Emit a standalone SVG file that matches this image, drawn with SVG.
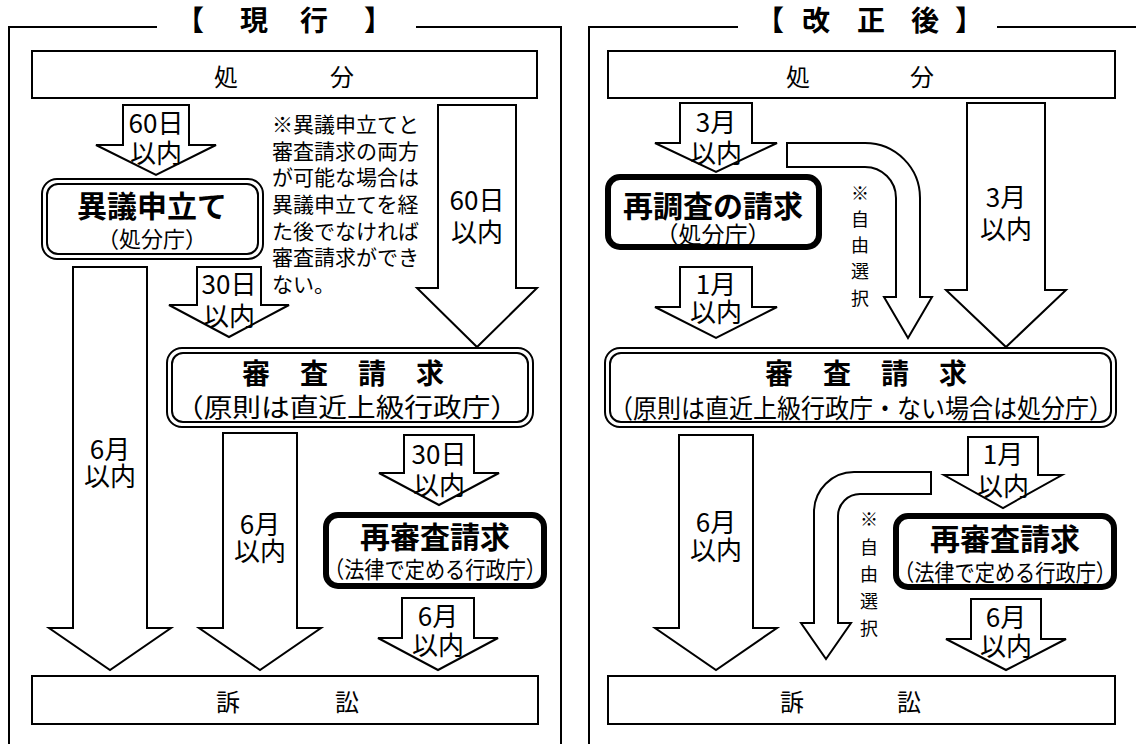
<svg xmlns="http://www.w3.org/2000/svg" width="1136" height="744" viewBox="0 0 1136 744">
<style>
.bg{fill:#fff}
.fr{fill:none;stroke:#000;stroke-width:2}
.bx{fill:#fff;stroke:#000;stroke-width:2}
.in{fill:none;stroke:#000;stroke-width:2}
.tk{fill:#fff;stroke:#000;stroke-width:6}
.ar{fill:#fff;stroke:#000;stroke-width:2;stroke-linejoin:miter}
text{font-family:"Noto Sans CJK JP","Noto Sans CJK SC",sans-serif;fill:#000;text-anchor:middle;dominant-baseline:central}
.ttl{font-size:28px;font-weight:700}
.lb{font-size:26px}
.bd{font-size:30px;font-weight:700}
.sb{font-size:22px}
.nt{font-size:21px;text-anchor:start}
.vt{font-size:18px}
.bx24{font-size:24px}
.sh{font-size:28px;font-weight:700}
.sub{font-size:26px}
</style>
<rect class="bg" x="0" y="0" width="1136" height="744"/>

<g id="frames">
  <path class="fr" d="M9,744 V27 H157 M416,27 H561 V744"/>
  <path class="fr" d="M589,744 V27 H738 M997,27 H1136"/>
</g>
<g id="titles">
  <text class="ttl" x="190 254 314 378" y="19">【現行】</text>
  <text class="ttl" x="770 816 871 925 969" y="19">【改正後】</text>
</g>

<g id="connectors">
  <path class="ar" d="M123,105 H189 V145 H216 L156,175 L96,145 H123 Z"/>
  <path class="ar" d="M73,267 H147 V628 H171 L110,670 L49,628 H73 Z"/>
  <path class="ar" d="M197,267 H261 V305 H289 L229,337 L169,305 H197 Z"/>
  <path class="ar" d="M438,105 H516 V288 H537 L477,347 L417,288 H438 Z"/>
  <path class="ar" d="M223,433 H297 V628 H321 L260,670 L199,628 H223 Z"/>
  <path class="ar" d="M404,435 H474 V473 H499 L439,505 L379,473 H404 Z"/>
  <path class="ar" d="M402,598 H474 V638 H498 L438,670 L378,638 H402 Z"/>
  <path class="ar" d="M680,103 H752 V143 H777 L716,172 L655,143 H680 Z"/>
  <path class="ar" d="M967,103 H1045 V290 H1066 L1006,347 L946,290 H967 Z"/>
  <path class="ar" d="M680,267 H752 V307 H777 L716,338 L655,307 H680 Z"/>
  <path class="ar" d="M679,435 H753 V628 H777 L716,670 L655,628 H679 Z"/>
  <path class="ar" d="M968,437 H1038 V475 H1062 L1003,508 L944,475 H968 Z"/>
  <path class="ar" d="M971,599 H1041 V639 H1066 L1006,670 L946,639 H971 Z"/>
  <path class="ar" d="M787,143 H865 A55,55 0 0 1 920,198 V297 H932 L908,338 L884,297 H896 V198 A31,31 0 0 0 865,167 H787 Z"/>
  <path class="ar" d="M931,472 H854 A40,40 0 0 0 814,512 V623 H801 L826,659 L851,623 H838 V516 A22,22 0 0 1 860,494 H931 Z"/>
</g>

<g id="left-shobun">
  <rect class="bx" x="32" y="51" width="505" height="47"/>
  <text class="bx24" x="226 342" y="75">処分</text>
</g>
<g id="left-igi">
  <rect class="bx" x="42" y="179" width="221" height="80" rx="15"/>
  <rect class="in" x="47" y="184" width="211" height="70" rx="11"/>
  <text class="bd" x="152" y="204">異議申立て</text>
  <text class="sb" x="152" y="237">（処分庁）</text>
</g>
<g id="left-note">
  <text class="nt" x="272" y="123">※異議申立てと</text>
  <text class="nt" x="272" y="150">審査請求の両方</text>
  <text class="nt" x="272" y="176">が可能な場合は</text>
  <text class="nt" x="272" y="203">異議申立てを経</text>
  <text class="nt" x="272" y="230">た後でなければ</text>
  <text class="nt" x="272" y="256">審査請求ができ</text>
  <text class="nt" x="272" y="283">ない。</text>
</g>
<g id="left-shinsa">
  <rect class="bx" x="167" y="348" width="366" height="79" rx="15"/>
  <rect class="in" x="172" y="353" width="356" height="69" rx="11"/>
  <text class="sh" x="256 314 372 430" y="372">審査請求</text>
  <text class="sub" x="347" y="405" textLength="344" lengthAdjust="spacingAndGlyphs">（原則は直近上級行政庁）</text>
</g>
<g id="left-saishinsa">
  <rect class="tk" x="326" y="515" width="218" height="71" rx="12"/>
  <text class="bd" x="435" y="535">再審査請求</text>
  <text class="sb" x="435" y="568" textLength="222" lengthAdjust="spacingAndGlyphs" style="font-size:23px">（法律で定める行政庁）</text>
</g>
<g id="left-sosho">
  <rect class="bx" x="32" y="676" width="506" height="48"/>
  <text class="bx24" x="228 347" y="700">訴訟</text>
</g>
<g id="left-labels">
  <text class="lb" x="156" y="121">60日</text>
  <text class="lb" x="156" y="151">以内</text>
  <text class="lb" x="477" y="198">60日</text>
  <text class="lb" x="477" y="230">以内</text>
  <text class="lb" x="229" y="282">30日</text>
  <text class="lb" x="229" y="314">以内</text>
  <text class="lb" x="110" y="447">6月</text>
  <text class="lb" x="110" y="474">以内</text>
  <text class="lb" x="260" y="522">6月</text>
  <text class="lb" x="260" y="549">以内</text>
  <text class="lb" x="439" y="452">30日</text>
  <text class="lb" x="439" y="483">以内</text>
  <text class="lb" x="438" y="614">6月</text>
  <text class="lb" x="438" y="643">以内</text>
</g>

<g id="right-shobun">
  <rect class="bx" x="608" y="51" width="507" height="47"/>
  <text class="bx24" x="798 922" y="75">処分</text>
</g>
<g id="right-saichosa">
  <rect class="tk" x="608" y="177" width="211" height="70" rx="12"/>
  <text class="bd" x="713" y="204">再調査の請求</text>
  <text class="sb" x="713" y="233" style="font-size:23px">（処分庁）</text>
</g>
<g id="right-note1">
  <text class="vt" x="860" y="192">※</text>
  <text class="vt" x="860" y="218">自</text>
  <text class="vt" x="860" y="244">由</text>
  <text class="vt" x="860" y="270">選</text>
  <text class="vt" x="860" y="297">択</text>
</g>
<g id="right-shinsa">
  <rect class="bx" x="605" y="348" width="511" height="79" rx="15"/>
  <rect class="in" x="610" y="353" width="501" height="69" rx="11"/>
  <text class="sh" x="779 837 895 953" y="372">審査請求</text>
  <text class="sub" x="861" y="406" textLength="504" lengthAdjust="spacingAndGlyphs">（原則は直近上級行政庁・ない場合は処分庁）</text>
</g>
<g id="right-note2">
  <text class="vt" x="869" y="518">※</text>
  <text class="vt" x="869" y="546">自</text>
  <text class="vt" x="869" y="573">由</text>
  <text class="vt" x="869" y="600">選</text>
  <text class="vt" x="869" y="627">択</text>
</g>
<g id="right-saishinsa">
  <rect class="tk" x="896" y="516" width="218" height="71" rx="12"/>
  <text class="bd" x="1005" y="537">再審査請求</text>
  <text class="sb" x="1005" y="571" textLength="222" lengthAdjust="spacingAndGlyphs" style="font-size:23px">（法律で定める行政庁）</text>
</g>
<g id="right-sosho">
  <rect class="bx" x="608" y="676" width="507" height="48"/>
  <text class="bx24" x="792 909" y="700">訴訟</text>
</g>
<g id="right-labels">
  <text class="lb" x="716" y="120">3月</text>
  <text class="lb" x="716" y="151">以内</text>
  <text class="lb" x="1006" y="195">3月</text>
  <text class="lb" x="1006" y="227">以内</text>
  <text class="lb" x="716" y="282">1月</text>
  <text class="lb" x="716" y="310">以内</text>
  <text class="lb" x="716" y="520">6月</text>
  <text class="lb" x="716" y="548">以内</text>
  <text class="lb" x="1003" y="452">1月</text>
  <text class="lb" x="1003" y="484">以内</text>
  <text class="lb" x="1006" y="615">6月</text>
  <text class="lb" x="1006" y="644">以内</text>
</g>
</svg>
